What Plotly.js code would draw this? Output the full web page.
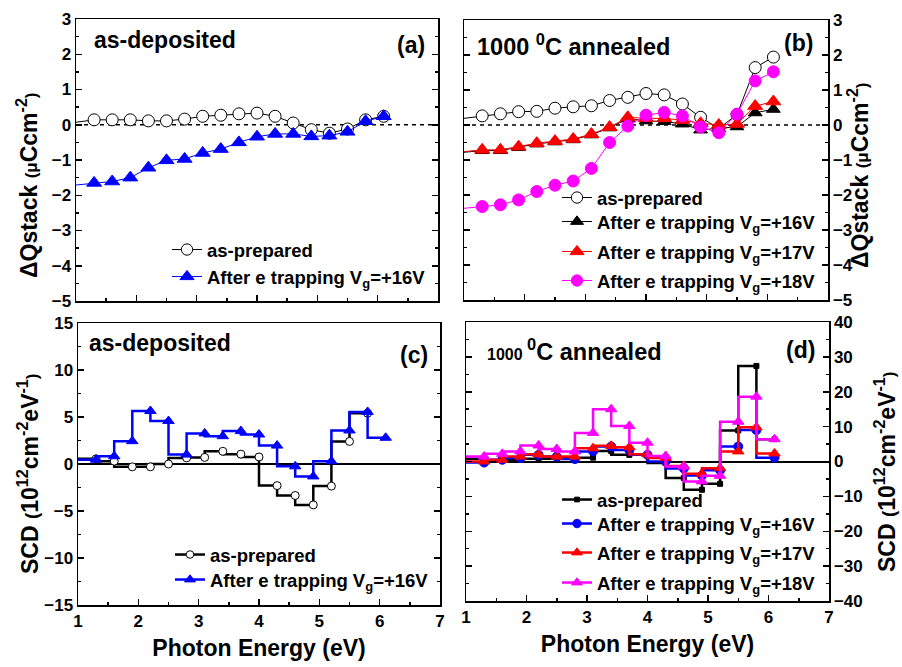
<!DOCTYPE html>
<html>
<head>
<meta charset="utf-8">
<script src="https://cdn.plot.ly/plotly-3.0.1.min.js"></script>
<style>html,body{margin:0;padding:0;background:#fff;}#chart{width:902px;height:667px;}</style>
</head>
<body>
<div id="chart"></div>
<script>
// Photon energies (eV); the 1.0 entry only carries the line to the frame
const E = [1.0, 1.3, 1.6, 1.9, 2.2, 2.5, 2.8, 3.1, 3.4, 3.7, 4.0, 4.3, 4.6, 4.9, 5.2, 5.5, 5.8, 6.1];

// (a) as-deposited, ΔQstack (µC cm^-2)
const qA_prep = [0.07, 0.14, 0.14, 0.14, 0.11, 0.11, 0.16, 0.24, 0.27, 0.31, 0.33, 0.24, 0.05, -0.14, -0.24, -0.12, 0.14, 0.24];
const qA_16   = [-1.71, -1.65, -1.61, -1.50, -1.22, -1.01, -0.97, -0.80, -0.69, -0.50, -0.34, -0.26, -0.26, -0.33, -0.31, -0.20, 0.10, 0.24];

// (b) 1000 °C annealed, ΔQstack
const qB_prep = [0.19, 0.26, 0.32, 0.38, 0.39, 0.48, 0.52, 0.55, 0.70, 0.79, 0.90, 0.86, 0.60, 0.22, -0.10, 0.30, 1.64, 1.94];
const qB_16   = [-0.78, -0.73, -0.73, -0.64, -0.54, -0.48, -0.42, -0.28, -0.08, 0.18, 0.12, 0.10, 0.03, -0.14, -0.10, -0.05, 0.35, 0.45];
const qB_17   = [-0.76, -0.71, -0.71, -0.62, -0.52, -0.46, -0.40, -0.26, -0.06, 0.22, 0.19, 0.19, 0.14, 0.05, 0.00, 0.03, 0.54, 0.67];
const qB_18   = [-2.38, -2.33, -2.28, -2.14, -1.90, -1.72, -1.60, -1.24, -0.50, -0.03, 0.28, 0.36, 0.26, -0.06, -0.22, 0.31, 1.26, 1.52];

// (c) as-deposited, SCD (10^12 cm^-2 eV^-1)
const sC_prep = [0.55, 0.55, 0.3, -0.3, -0.3, 0.0, 0.65, 0.7, 1.35, 1.05, 0.75, -2.3, -3.35, -4.35, -2.35, 2.4, 5.4, null];
const sC_16   = [0.46, 0.46, 0.82, 2.43, 5.64, 4.57, 1.0, 3.25, 2.96, 3.5, 3.14, 1.96, -0.25, -1.32, 0.29, 3.57, 5.54, 2.79];

// (d) 1000 °C annealed, SCD
const sD_prep = [0.8, 0.8, 0.3, 0.5, 0.8, 0.8, 0.9, 1.1, 3.0, 1.9, 2.0, -0.4, -4.7, -8.1, -6.4, 8.9, 27.4, 6.4];
const sD_16   = [-0.3, -0.3, 0.5, 1.0, 1.9, 1.4, 0.7, 2.9, 4.3, 3.3, 1.9, 0.0, -2.0, -4.0, -2.5, 4.3, 9.0, 1.1];
const sD_17   = [0.0, 0.0, 0.5, 1.4, 2.1, 1.4, 1.4, 3.8, 4.5, 4.1, 2.1, 1.0, -1.3, -3.5, -1.9, 2.9, 9.8, 2.3];
const sD_18   = [1.4, 1.4, 2.2, 2.9, 4.6, 3.6, 2.9, 8.2, 15.0, 10.2, 5.4, 1.6, -1.4, -5.7, -4.1, 11.4, 18.6, 6.4];

// legend labels
const L_PREP = 'as-prepared';
const L_16 = 'After e trapping V<sub>g</sub>=+16V';
const L_17 = 'After e trapping V<sub>g</sub>=+17V';
const L_18 = 'After e trapping V<sub>g</sub>=+18V';

// axis titles
const X_TITLE = 'Photon Energy (eV)';
const Q_TITLE = 'ΔQstack <span style="font-size:17px">(μ</span>Ccm<sup>-2</sup><span style="font-size:17px">)</span>';
const S_TITLE = 'SCD <span style="font-size:19px">(</span>10<sup>12</sup>cm<sup>-2</sup>eV<sup>-1</sup><span style="font-size:17px">)</span>';

const FONT = 'Liberation Sans, Arial, Helvetica, sans-serif';
const W = 902, H = 667;
const M = {l: 76, r: 73, t: 19, b: 62};
const PW = W - M.l - M.r, PH = H - M.t - M.b;
const sizes = (s) => E.map((_, i) => i === 0 ? 0 : s);

function tr(x, y, xa, ya, name, leg, color, symbol, msize, fill, lw, shape) {
  return {
    x: x, y: y, xaxis: xa, yaxis: ya, name: name, legend: leg,
    type: 'scatter', mode: 'lines+markers', cliponaxis: true,
    line: {color: color, width: lw, shape: shape || 'linear'},
    marker: {symbol: symbol, size: sizes(msize), opacity: 1, color: fill, line: {color: color, width: 1}}
  };
}

const data = [
  tr(E, qA_prep, 'x', 'y', L_PREP, 'legend', 'black', 'circle', 12, 'white', 1),
  tr(E, qA_16, 'x', 'y', L_16, 'legend2', '#0000FF', 'triangle-up', 13, '#0000FF', 1),

  tr(E, qB_prep, 'x2', 'y2', L_PREP, 'legend3', 'black', 'circle', 12, 'white', 1),
  tr(E, qB_16, 'x2', 'y2', L_16, 'legend4', 'black', 'triangle-up', 12, 'black', 1),
  tr(E, qB_17, 'x2', 'y2', L_17, 'legend5', '#FF0000', 'triangle-up', 13, '#FF0000', 1),
  tr(E, qB_18, 'x2', 'y2', L_18, 'legend6', '#FF00FF', 'circle', 12, '#FF00FF', 1),

  tr(E, sC_prep, 'x3', 'y3', L_PREP, 'legend7', 'black', 'circle', 8, 'white', 2.5, 'vh'),
  tr(E, sC_16, 'x3', 'y3', L_16, 'legend8', '#0000FF', 'triangle-up', 10, '#0000FF', 2.5, 'vh'),

  tr(E, sD_prep, 'x4', 'y4', L_PREP, 'legend9', 'black', 'square', 5, 'black', 2.5, 'vh'),
  tr(E, sD_16, 'x4', 'y4', L_16, 'legend10', '#0000FF', 'circle', 9, '#0000FF', 2.5, 'vh'),
  tr(E, sD_17, 'x4', 'y4', L_17, 'legend11', '#FF0000', 'triangle-up', 10, '#FF0000', 2.5, 'vh'),
  tr(E, sD_18, 'x4', 'y4', L_18, 'legend12', '#FF00FF', 'triangle-up', 10, '#FF00FF', 2.5, 'vh')
];

// pixel -> plot-area fraction
const px = (v) => (v - M.l) / PW;
const py = (v) => 1 - (v - M.t) / PH;

function xAx(d0, d1, anchor, labels) {
  const a = {
    domain: [px(d0), px(d1)], anchor: anchor, range: [1, 7], tick0: 1, dtick: 1,
    ticks: 'inside', ticklen: 6, tickwidth: 1.5, tickcolor: 'black',
    showline: true, linewidth: 1.5, linecolor: 'black', mirror: true,
    showgrid: false, zeroline: false, showticklabels: labels,
    tickfont: {family: FONT, size: 17, weight: 'bold', color: 'black'},
    minor: {ticks: 'inside', dtick: 0.5, ticklen: 3, tickwidth: 1.5, tickcolor: 'black', showgrid: false},
    automargin: false
  };
  if (labels) a.title = {text: X_TITLE, font: {family: FONT, size: 23, weight: 'bold', color: 'black'}, standoff: 10};
  return a;
}

function yAx(t0, t1, anchor, side, range, dtick, mdtick, zl) {
  return {
    domain: [py(t1), py(t0)], anchor: anchor, side: side, range: range, dtick: dtick, tick0: 0,
    ticks: 'inside', ticklen: 6, tickwidth: 1.5, tickcolor: 'black',
    showline: true, linewidth: 1.5, linecolor: 'black', mirror: 'ticks',
    showgrid: false, zeroline: zl, zerolinecolor: 'black', zerolinewidth: 2,
    tickfont: {family: FONT, size: 17, weight: 'bold', color: 'black'},
    minor: {ticks: 'inside', dtick: mdtick, ticklen: 3, tickwidth: 1.5, tickcolor: 'black', showgrid: false},
    automargin: false
  };
}

function leg(textX, yc) {
  return {
    x: px(textX - 40), y: py(yc), xanchor: 'left', yanchor: 'middle',
    bgcolor: 'rgba(0,0,0,0)', borderwidth: 0, itemwidth: 30, itemclick: false, itemdoubleclick: false,
    font: {family: FONT, size: 18.5, weight: 'bold', color: 'black'}
  };
}

function ann(text, x, y, xanchor, size, angle) {
  return {text: text, x: px(x), y: py(y), xref: 'paper', yref: 'paper', xanchor: xanchor, yanchor: 'middle',
    textangle: angle || 0,
    showarrow: false, font: {family: FONT, size: size || 23, weight: 'bold', color: 'black'}};
}

const ANNEAL = '1000 <sup>0</sup>C annealed';
const ANNEAL_D = '<span style="font-size:16px">1000 </span><sup>0</sup>C annealed';

const layout = {
  width: W, height: H, margin: M, paper_bgcolor: 'white', plot_bgcolor: 'white',
  font: {family: FONT, size: 17, weight: 'bold', color: 'black'},
  xaxis: xAx(76, 438, 'y', false),
  yaxis: yAx(19, 301, 'x', 'left', [-5, 3], 1, 0.5, false),
  xaxis2: xAx(464, 828, 'y2', false),
  yaxis2: yAx(20, 300, 'x2', 'right', [-5, 3], 1, 0.5, false),
  xaxis3: xAx(78, 440, 'y3', true),
  yaxis3: yAx(323, 605, 'x3', 'left', [-15, 15], 5, 2.5, true),
  xaxis4: xAx(466, 829, 'y4', true),
  yaxis4: yAx(322, 601, 'x4', 'right', [-40, 40], 10, 5, true),
  legend: leg(207, 250), legend2: leg(207, 277),
  legend3: leg(597, 198), legend4: leg(597, 222), legend5: leg(597, 252), legend6: leg(597, 281),
  legend7: leg(210, 555), legend8: leg(210, 580),
  legend9: leg(597, 500), legend10: leg(597, 524), legend11: leg(597, 553), legend12: leg(597, 583),
  shapes: [
    {type: 'line', xref: 'x domain', yref: 'y', x0: 0, x1: 1, y0: 0, y1: 0, layer: 'below', line: {color: 'black', width: 1.5, dash: '4px,4px'}},
    {type: 'line', xref: 'x2 domain', yref: 'y2', x0: 0, x1: 1, y0: 0, y1: 0, layer: 'below', line: {color: 'black', width: 1.5, dash: '4px,4px'}}
  ],
  annotations: [
    ann('as-deposited', 92, 40, 'left'), ann('(a)', 427, 45, 'right'),
    ann(ANNEAL, 475, 45, 'left', 23.5), ann('(b)', 815, 43, 'right'),
    ann('as-deposited', 87, 343, 'left'), ann('(c)', 430, 355, 'right'),
    ann(ANNEAL_D, 485, 350, 'left', 23.5), ann('(d)', 817, 350, 'right'),
    // y-axis titles
    ann(Q_TITLE, 27, 185, 'center', 23, -90),
    ann(Q_TITLE, 858, 175, 'center', 23, -90),
    ann(S_TITLE, 28, 474, 'center', 23, -90),
    ann(S_TITLE, 885, 472, 'center', 23, -90)
  ],
  showlegend: true
};

Plotly.newPlot('chart', data, layout, {staticPlot: true, displayModeBar: false});
</script>
</body>
</html>
